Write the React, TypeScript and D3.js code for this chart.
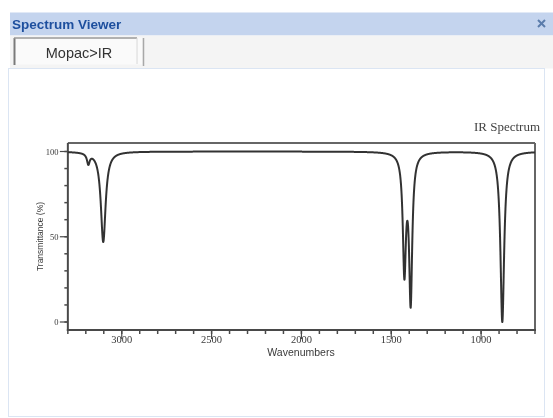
import React from "react";
import * as d3 from "d3";

// Peak data (wavenumber cm^-1, depth in % transmittance, half-width cm^-1)
const peakCenters = [3186, 3103, 1427, 1392, 882];
const peakDepths = [6, 53, 68, 86, 100];
const peakWidths = [9, 16, 10.5, 10.5, 12.5];

const xMajorTicks = [3000, 2500, 2000, 1500, 1000];
const xMinorTicks = d3.range(3300, 699, -100);
const yMajorTicks = [0, 50, 100];
const yMinorTicks = d3.range(0, 101, 10);

const W = 553;
const H = 418;

function spectrumAt(wn: number): number {
  let t = 100;
  for (let i = 0; i < peakCenters.length; i++) {
    const g = peakWidths[i];
    const d = wn - peakCenters[i];
    t -= (peakDepths[i] * g * g) / (d * d + g * g);
  }
  return Math.max(0, t);
}

export default function App() {
  const left = 67.85;
  const right = 535;
  const top = 143;
  const bottom = 330;
  const x = d3.scaleLinear().domain([3300, 700]).range([left, right]);
  const y = d3.scaleLinear().domain([0, 100]).range([322, 151.5]);

  const wns = d3.range(3300, 699.5, -0.5);
  const pts: [number, number][] = wns.map((w) => [w, spectrumAt(w)]);
  const line = d3
    .line<[number, number]>()
    .x((d) => x(d[0]))
    .y((d) => y(d[1]));

  const axisColor = "#4a4a4a";
  const textColor = "#3a3a3a";

  return (
    <svg
      width={W}
      height={H}
      style={{ position: "absolute", left: 0, top: 0 }}
      xmlns="http://www.w3.org/2000/svg"
    >
      <defs>
        <filter id="soft" x="-5%" y="-5%" width="110%" height="110%">
          <feGaussianBlur stdDeviation="0.45" />
        </filter>
      </defs>
      <rect x={0} y={0} width={W} height={H} fill="#ffffff" />
      {/* title bar */}
      <rect x={10} y={12.5} width={W - 10} height={23} fill="#c4d4ee" />
      <text
        x={12}
        y={29}
        fontFamily="'Liberation Sans', Arial, sans-serif"
        fontWeight="bold"
        fontSize={13.5}
        fill="#1f4f9e"
        filter="url(#soft)"
      >
        Spectrum Viewer
      </text>
      <g stroke="#5a7bab" strokeWidth={2} filter="url(#soft)">
        <line x1={538} y1={20} x2={545} y2={27} />
        <line x1={545} y1={20} x2={538} y2={27} />
      </g>
      {/* tab strip */}
      <rect x={10} y={35.5} width={W - 10} height={33} fill="#f4f4f4" />
      <rect x={14} y={37.5} width={128} height={27} fill="#fafafa" />
      <g filter="url(#soft)">
        <line x1={14.5} y1={38} x2={14.5} y2={65} stroke="#7a7a7a" strokeWidth={2} />
        <line x1={14} y1={38} x2={137} y2={38} stroke="#9a9a9a" strokeWidth={1.5} />
        <line x1={137} y1={38} x2={137} y2={64} stroke="#d8d8d8" strokeWidth={1} />
        <line x1={143.5} y1={38} x2={143.5} y2={66} stroke="#a8a8a8" strokeWidth={1.5} />
      </g>
      <text
        x={79}
        y={58}
        textAnchor="middle"
        fontFamily="'Liberation Sans', Arial, sans-serif"
        fontSize={14.5}
        fill="#333"
        filter="url(#soft)"
      >
        Mopac&gt;IR
      </text>
      {/* content panel */}
      <rect x={8.5} y={68.5} width={536} height={348} fill="#ffffff" stroke="#dbe5f3" strokeWidth={1} />

      <g filter="url(#soft)">
        {/* plot title */}
        <text
          x={540}
          y={131}
          textAnchor="end"
          fontFamily="'Liberation Serif', 'Times New Roman', serif"
          fontSize={13}
          fill="#444"
        >
          IR Spectrum
        </text>

        {/* frame */}
        <line x1={left} y1={top} x2={right} y2={top} stroke="#666" strokeWidth={2} />
        <line x1={right} y1={top} x2={right} y2={bottom} stroke="#666" strokeWidth={2} />
        <line x1={left} y1={top} x2={left} y2={bottom + 1} stroke={axisColor} strokeWidth={2} />
        <line x1={left - 1} y1={bottom} x2={right + 1} y2={bottom} stroke={axisColor} strokeWidth={2} />

        {/* x ticks */}
        {xMinorTicks.map((t) => (
          <line key={"xm" + t} x1={x(t)} x2={x(t)} y1={bottom} y2={bottom + 4} stroke={axisColor} strokeWidth={1.5} />
        ))}
        {xMajorTicks.map((t) => (
          <g key={"xM" + t}>
            <line x1={x(t)} x2={x(t)} y1={bottom} y2={bottom + 9} stroke={axisColor} strokeWidth={1.2} />
            <text
              x={x(t)}
              y={343}
              textAnchor="middle"
              fontFamily="'Liberation Serif', 'Times New Roman', serif"
              fontSize={10.5}
              fill={textColor}
            >
              {t}
            </text>
          </g>
        ))}
        <text
          x={301}
          y={355.5}
          textAnchor="middle"
          fontFamily="'Liberation Sans', Arial, sans-serif"
          fontSize={10.5}
          fill={textColor}
        >
          Wavenumbers
        </text>

        {/* y ticks */}
        {yMinorTicks.map((t) => (
          <line key={"ym" + t} x1={left - 3.5} x2={left} y1={y(t)} y2={y(t)} stroke={axisColor} strokeWidth={1.5} />
        ))}
        {yMajorTicks.map((t) => (
          <g key={"yM" + t}>
            <line x1={left - 8} x2={left} y1={y(t)} y2={y(t)} stroke={axisColor} strokeWidth={1.2} />
            <text
              x={58.5}
              y={y(t) + 3}
              textAnchor="end"
              fontFamily="'Liberation Serif', 'Times New Roman', serif"
              fontSize={8.5}
              fill={textColor}
            >
              {t}
            </text>
          </g>
        ))}
        <text
          transform={`translate(43, ${236.5}) rotate(-90)`}
          textAnchor="middle"
          fontFamily="'Liberation Sans', Arial, sans-serif"
          fontSize={8.5}
          fill={textColor}
        >
          Transmittance (%)
        </text>

        {/* spectrum */}
        <path d={line(pts) || ""} fill="none" stroke="#333" strokeWidth={2} strokeLinejoin="round" />
      </g>
    </svg>
  );
}
